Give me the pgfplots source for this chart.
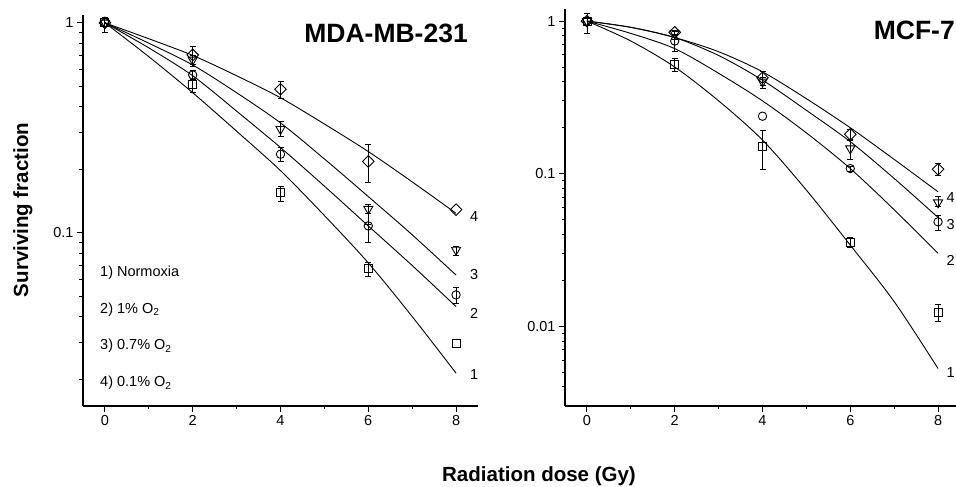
\documentclass[border=0pt]{standalone}
\usepackage{pgfplots}
\pgfplotsset{compat=1.18}
\usepackage{fontspec}
\setmainfont{Liberation Sans}

% open marks as in the original figure
\pgfdeclareplotmark{sqdiamond}{%
  \pgfpathmoveto{\pgfqpoint{0pt}{\pgfplotmarksize}}%
  \pgfpathlineto{\pgfqpoint{\pgfplotmarksize}{0pt}}%
  \pgfpathlineto{\pgfqpoint{0pt}{-\pgfplotmarksize}}%
  \pgfpathlineto{\pgfqpoint{-\pgfplotmarksize}{0pt}}%
  \pgfpathclose\pgfusepathqstroke}
\pgfdeclareplotmark{tridown}{%
  \pgfpathmoveto{\pgfqpoint{0pt}{-\pgfplotmarksize}}%
  \pgfpathlineto{\pgfqpoint{0.866\pgfplotmarksize}{0.5\pgfplotmarksize}}%
  \pgfpathlineto{\pgfqpoint{-0.866\pgfplotmarksize}{0.5\pgfplotmarksize}}%
  \pgfpathclose\pgfusepathqstroke}

\newcommand{\tfont}{\fontsize{14.5}{17}\selectfont}

\pgfplotsset{
  sfax/.style={
    scale only axis,
    anchor=south west,
    width=395pt,
    axis x line*=bottom,
    axis y line*=left,
    axis line style={line width=1.1pt},
    xmin=-0.5, xmax=8.5,
    xtick={0,2,4,6,8},
    minor x tick num=1,
    tick align=outside,
    major tick length=6pt,
    minor tick length=3.5pt,
    tick style={black, line width=1pt},
    tick label style={font=\tfont},
    clip=false,
  },
  fitline/.style={black, line width=0.9pt, smooth, no marks},
  bare/.style={black, only marks, line width=0.9pt},
  pts/.style={black, only marks, line width=0.9pt,
    error bars/y dir=both,
    error bars/y explicit,
    error bars/error bar style={line width=0.9pt},
    error bars/error mark options={rotate=90, mark size=3pt, line width=0.9pt}},
  sq/.style={mark=square, mark size=4pt},
  ci/.style={mark=o, mark size=4.2pt},
  tr/.style={mark=tridown, mark size=5.3pt},
  di/.style={mark=sqdiamond, mark size=5.8pt},
}

\begin{document}
\begin{tikzpicture}[x=1pt,y=1pt]

% ---------------- MDA-MB-231 ----------------
\begin{axis}[ymode=log, sfax,
  /pgf/number format/assume math mode=true,
  at={(83pt,81pt)},
  height=391pt,
  ymin=0.015, ymax=1.09,
  ytick={0.1,1}, yticklabels={0.1,1},
  minor ytick={0.02,0.03,0.04,0.05,0.06,0.07,0.08,0.09,0.2,0.3,0.4,0.5,0.6,0.7,0.8,0.9},
]
% fitted curves
\addplot[fitline] coordinates {(0,1) (1,0.69) (2,0.465) (3,0.305) (4,0.198) (5,0.121) (6,0.072) (7,0.040) (8,0.0215)};
\addplot[fitline] coordinates {(0,1) (1,0.76) (2,0.56) (3,0.38) (4,0.255) (5,0.167) (6,0.108) (7,0.070) (8,0.0446)};
\addplot[fitline] coordinates {(0,1) (1,0.80) (2,0.63) (3,0.465) (4,0.334) (5,0.225) (6,0.149) (7,0.098) (8,0.063)};
\addplot[fitline] coordinates {(0,1) (1,0.84) (2,0.70) (3,0.56) (4,0.44) (5,0.33) (6,0.244) (7,0.175) (8,0.124)};
% 1) Normoxia
\addplot[pts, sq] table[x=x, y=y, y error plus=ep, y error minus=em] {
x y ep em
0 1.0 0.056 0.10
2 0.511 0.025 0.045
4 0.1555 0.011 0.014
6 0.0676 0.0045 0.0055
};
\addplot[bare, sq] coordinates {(8,0.0298)};
% 2) 1% O2
\addplot[pts, ci] table[x=x, y=y, y error plus=ep, y error minus=em] {
x y ep em
2 0.565 0.03 0.03
4 0.237 0.017 0.019
6 0.108 0.016 0.018
8 0.0507 0.0045 0.0043
};
\addplot[bare, ci] coordinates {(0,1.0)};
% 3) 0.7% O2
\addplot[pts, tr] table[x=x, y=y, y error plus=ep, y error minus=em] {
x y ep em
2 0.667 0.03 0.05
4 0.312 0.027 0.025
6 0.130 0.006 0.02
8 0.083 0.0035 0.0045
};
\addplot[bare, tr] coordinates {(0,1.0)};
% 4) 0.1% O2
\addplot[pts, di] table[x=x, y=y, y error plus=ep, y error minus=em] {
x y ep em
2 0.704 0.066 0.07
4 0.483 0.043 0.045
6 0.219 0.044 0.045
};
\addplot[bare, di] coordinates {(0,1.0) (8,0.129)};
\end{axis}

% ---------------- MCF-7 ----------------
\begin{axis}[ymode=log, sfax,
  /pgf/number format/assume math mode=true,
  at={(565pt,81pt)},
  height=397pt,
  ymin=0.003, ymax=1.2,
  ytick={0.01,0.1,1}, yticklabels={0.01,0.1,1},
  minor ytick={0.004,0.005,0.006,0.007,0.008,0.009,0.02,0.03,0.04,0.05,0.06,0.07,0.08,0.09,0.2,0.3,0.4,0.5,0.6,0.7,0.8,0.9},
]
\addplot[fitline] coordinates {(0,1) (1,0.74) (2,0.50) (3,0.30) (4,0.166) (5,0.078) (6,0.034) (7,0.0145) (8,0.00528)};
\addplot[fitline] coordinates {(0,1) (1,0.83) (2,0.66) (3,0.455) (4,0.30) (5,0.185) (6,0.108) (7,0.058) (8,0.030)};
\addplot[fitline] coordinates {(0,1) (1,0.91) (2,0.78) (3,0.595) (4,0.41) (5,0.26) (6,0.162) (7,0.093) (8,0.0516)};
\addplot[fitline] coordinates {(0,1) (1,0.91) (2,0.78) (3,0.63) (4,0.465) (5,0.31) (6,0.20) (7,0.124) (8,0.076)};
\addplot[pts, sq] table[x=x, y=y, y error plus=ep, y error minus=em] {
x y ep em
0 1.0 0.12 0.17
2 0.52 0.05 0.055
4 0.151 0.042 0.045
6 0.0354 0.0026 0.0026
8 0.0124 0.0015 0.0016
};
\addplot[pts, ci] table[x=x, y=y, y error plus=ep, y error minus=em] {
x y ep em
2 0.74 0.02 0.11
6 0.108 0.004 0.004
8 0.0483 0.005 0.0056
};
\addplot[bare, ci] coordinates {(0,1.0) (4,0.238)};
\addplot[pts, tr] table[x=x, y=y, y error plus=ep, y error minus=em] {
x y ep em
2 0.83 0.02 0.02
4 0.40 0.03 0.04
6 0.146 0.02 0.023
8 0.0647 0.006 0.004
};
\addplot[bare, tr] coordinates {(0,1.0)};
\addplot[pts, di] table[x=x, y=y, y error plus=ep, y error minus=em] {
x y ep em
2 0.843 0.03 0.03
4 0.425 0.045 0.045
6 0.181 0.014 0.013
8 0.107 0.009 0.009
};
\addplot[bare, di] coordinates {(0,1.0)};
\end{axis}

% titles and labels
\node[anchor=base east, inner sep=0, font=\fontsize{26.5}{30}\selectfont\bfseries] at (468,444) {MDA-MB-231};
\node[anchor=base east, inner sep=0, font=\fontsize{26.5}{30}\selectfont\bfseries] at (955,447) {MCF-7};
\node[rotate=90, anchor=base, inner sep=0, font=\fontsize{20.5}{24}\selectfont\bfseries] at (28,277) {Surviving fraction};
\node[anchor=base, inner sep=0, font=\fontsize{20.5}{24}\selectfont\bfseries] at (539,5.5) {Radiation dose (Gy)};

% condition key
\node[anchor=base west, inner sep=0, font=\tfont] at (100,210) {1) Normoxia};
\node[anchor=base west, inner sep=0, font=\tfont] at (100,173.5) {2) 1\% O\textsubscript{2}};
\node[anchor=base west, inner sep=0, font=\tfont] at (100,137) {3) 0.7\% O\textsubscript{2}};
\node[anchor=base west, inner sep=0, font=\tfont] at (100,100) {4) 0.1\% O\textsubscript{2}};

% curve numbers
\foreach \n/\yy in {4/270,3/212,2/174,1/112}
  \node[anchor=west, inner sep=0, font=\tfont] at (470,\yy) {\n};
\foreach \n/\yy in {4/289,3/262,2/227,1/114}
  \node[anchor=east, inner sep=0, font=\tfont] at (955,\yy) {\n};

\pgfresetboundingbox
\useasboundingbox (0,0) rectangle (956,487);
\end{tikzpicture}
\end{document}
